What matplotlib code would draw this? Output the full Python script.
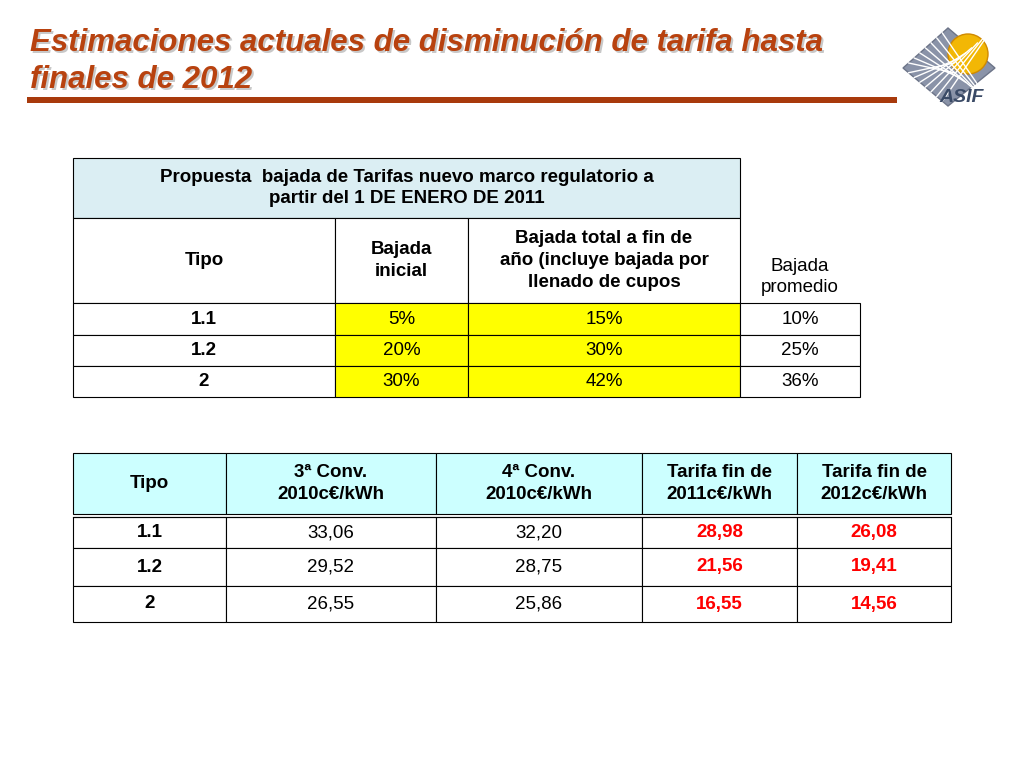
import matplotlib
matplotlib.use("Agg")
import matplotlib.pyplot as plt
from matplotlib.patches import Rectangle, Circle, Polygon

title_lines = ["Estimaciones actuales de disminución de tarifa hasta", "finales de 2012"]

# table 1
t1_title = "Propuesta  bajada de Tarifas nuevo marco regulatorio a\npartir del 1 DE ENERO DE 2011"
t1_head = ["Tipo", "Bajada\ninicial", "Bajada total a fin de\naño (incluye bajada por\nllenado de cupos", "Bajada\npromedio"]
t1_tipo = ["1.1", "1.2", "2"]
t1_inicial = ["5%", "20%", "30%"]
t1_total = ["15%", "30%", "42%"]
t1_promedio = ["10%", "25%", "36%"]

# table 2
t2_head = ["Tipo", "3ª Conv.\n2010c€/kWh", "4ª Conv.\n2010c€/kWh", "Tarifa fin de\n2011c€/kWh", "Tarifa fin de\n2012c€/kWh"]
t2_tipo = ["1.1", "1.2", "2"]
t2_conv3 = ["33,06", "29,52", "26,55"]
t2_conv4 = ["32,20", "28,75", "25,86"]
t2_2011 = ["28,98", "21,56", "16,55"]
t2_2012 = ["26,08", "19,41", "14,56"]

fig = plt.figure(figsize=(10.24, 7.57), dpi=100)
ax = fig.add_axes([0, 0, 1, 1])
ax.set_xlim(0, 1024)
ax.set_ylim(757, 0)
ax.axis("off")

font = "Liberation Sans"

def cell(x0, x1, y0, y1, text, fc="white", bold=False, color="black", size=13.5, edge=True):
    ax.add_patch(Rectangle((x0, y0), x1 - x0, y1 - y0, fc=fc, ec="black" if edge else "none", lw=0.8))
    ax.text((x0 + x1) / 2, (y0 + y1) / 2, text, ha="center", va="center",
            fontsize=size, fontweight="bold" if bold else "normal", color=color,
            family=font, linespacing=1.35)

# title
for i, line in enumerate(title_lines):
    y = 43 + i * 37
    ax.text(32, y + 2, line, fontsize=22.5, fontweight="bold", style="italic", color="#C8C8C8",
            family=font, va="center")
    ax.text(30, y, line, fontsize=22.5, fontweight="bold", style="italic", color="#B8420F",
            family=font, va="center")
ax.add_patch(Rectangle((27, 97), 870, 6, fc="#A83A0C", ec="none"))

# logo
ax.add_patch(Polygon([[903, 68], [948, 28], [995, 68], [948, 106]], closed=True, fc="#8A93A8", ec="#6C7488"))
for k in range(1, 8):
    f = k / 8
    ax.plot([903 + 45 * f, 948 + 47 * f], [68 - 40 * f, 68 + 38 * f], color="white", lw=1)
    ax.plot([903 + 45 * f, 948 + 47 * f], [68 + 38 * f, 68 - 40 * f], color="white", lw=1)
ax.add_patch(Circle((968, 54), 20, fc="#F2B705", ec="#D08A00"))
ax.text(962, 98, "ASIF", fontsize=14, fontweight="bold", style="italic", color="#3A4A66",
        family=font, ha="center", va="center")

# table 1
c1 = [73, 335, 468, 740, 860]
r1 = [158, 218, 303, 335, 366, 397]
cell(c1[0], c1[3], r1[0], r1[1], t1_title, fc="#DBEEF3", bold=True)
for j in range(3):
    cell(c1[j], c1[j + 1], r1[1], r1[2], t1_head[j], bold=True)
ax.text((c1[3] + c1[4]) / 2, 277, t1_head[3], ha="center", va="center", fontsize=13.5,
        family=font, linespacing=1.3)
for i in range(len(t1_tipo)):
    y0, y1 = r1[i + 2], r1[i + 3]
    cell(c1[0], c1[1], y0, y1, t1_tipo[i], bold=True)
    cell(c1[1], c1[2], y0, y1, t1_inicial[i], fc="#FFFF00")
    cell(c1[2], c1[3], y0, y1, t1_total[i], fc="#FFFF00")
    cell(c1[3], c1[4], y0, y1, t1_promedio[i])

# table 2
c2 = [73, 226, 436, 642, 797, 951]
r2 = [453, 514, 548, 586, 622]
for j in range(5):
    cell(c2[j], c2[j + 1], r2[0], r2[1], t2_head[j], fc="#CCFFFF", bold=True)
ax.plot([c2[0], c2[-1]], [r2[1] + 3, r2[1] + 3], color="black", lw=0.8)
for i in range(len(t2_tipo)):
    y0, y1 = r2[i + 1] + (3 if i == 0 else 0), r2[i + 2]
    cell(c2[0], c2[1], y0, y1, t2_tipo[i], bold=True)
    cell(c2[1], c2[2], y0, y1, t2_conv3[i])
    cell(c2[2], c2[3], y0, y1, t2_conv4[i])
    cell(c2[3], c2[4], y0, y1, t2_2011[i], bold=True, color="#FF0000")
    cell(c2[4], c2[5], y0, y1, t2_2012[i], bold=True, color="#FF0000")

fig.savefig("out.png", dpi=100)
